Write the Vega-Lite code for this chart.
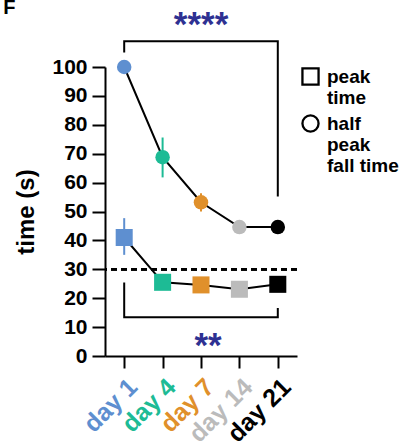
{
  "$schema": "https://vega.github.io/schema/vega-lite/v6.json",
  "width": 192,
  "height": 289,
  "autosize": {"type": "none"},
  "padding": {"left": 105, "top": 67, "right": 122, "bottom": 91},
  "background": "white",
  "config": {
    "view": {"stroke": null},
    "font": "Liberation Sans",
    "axisY": {
      "titleFontSize": 24, "titleFontWeight": "bold", "titleColor": "black", "titlePadding": 13,
      "labelFontSize": 21, "labelFontWeight": "bold", "labelColor": "black", "labelPadding": 5, "labelOverlap": false,
      "tickSize": 13, "tickWidth": 2, "tickColor": "black", "domainColor": "black", "domainWidth": 2, "grid": false
    },
    "axisX": {
      "labelAngle": -45, "labelFontSize": 25, "labelFontWeight": "bold", "labelOverlap": false,
      "tickSize": 12, "tickWidth": 2, "tickColor": "black", "domainColor": "black", "domainWidth": 2,
      "labelPadding": 6, "grid": false
    }
  },
  "datasets": {
    "series": [
      {"day": "day 1", "ord": 1, "type": "peak|time", "mean": 41.0, "lo": 35.0, "hi": 47.7},
      {"day": "day 4", "ord": 2, "type": "peak|time", "mean": 25.5, "lo": 24.5, "hi": 26.5},
      {"day": "day 7", "ord": 3, "type": "peak|time", "mean": 24.6, "lo": 23.6, "hi": 25.6},
      {"day": "day 14", "ord": 4, "type": "peak|time", "mean": 23.1, "lo": 22.1, "hi": 24.1},
      {"day": "day 21", "ord": 5, "type": "peak|time", "mean": 24.8, "lo": 23.8, "hi": 25.8},
      {"day": "day 1", "ord": 1, "type": "half|peak|fall time", "mean": 100, "lo": 99, "hi": 101},
      {"day": "day 4", "ord": 2, "type": "half|peak|fall time", "mean": 68.8, "lo": 61.8, "hi": 75.6},
      {"day": "day 7", "ord": 3, "type": "half|peak|fall time", "mean": 53.2, "lo": 50.0, "hi": 56.3},
      {"day": "day 14", "ord": 4, "type": "half|peak|fall time", "mean": 44.6, "lo": 43.6, "hi": 45.6},
      {"day": "day 21", "ord": 5, "type": "half|peak|fall time", "mean": 44.6, "lo": 43.6, "hi": 45.6}
    ],
    "brackets": [
      {"g": "top", "ord": 1, "day": "day 1", "v": 105},
      {"g": "top", "ord": 2, "day": "day 1", "v": 108.9},
      {"g": "top", "ord": 3, "day": "day 21", "v": 108.9},
      {"g": "top", "ord": 4, "day": "day 21", "v": 55.2},
      {"g": "bot", "ord": 1, "day": "day 1", "v": 25.4},
      {"g": "bot", "ord": 2, "day": "day 1", "v": 13.4},
      {"g": "bot", "ord": 3, "day": "day 21", "v": 13.4},
      {"g": "bot", "ord": 4, "day": "day 21", "v": 16.6}
    ],
    "stars": [
      {"day": "day 7", "v": 117, "label": "****", "which": "top"},
      {"day": "day 7", "v": 6.3, "label": "**", "which": "bot"},
      {"day": "day 1", "v": 118.2, "label": "F", "which": "panel"}
    ]
  },
  "encoding": {
    "x": {
      "field": "day", "type": "ordinal",
      "scale": {"type": "point", "domain": ["day 1", "day 4", "day 7", "day 14", "day 21"], "padding": 0.5},
      "axis": {
        "title": null,
        "labelColor": {"condition": [
          {"test": "datum.value == 'day 1'", "value": "#5e8fd0"},
          {"test": "datum.value == 'day 4'", "value": "#1dbb95"},
          {"test": "datum.value == 'day 7'", "value": "#e0902b"},
          {"test": "datum.value == 'day 14'", "value": "#bbbbbb"}
        ], "value": "#000000"}
      }
    },
    "y": {
      "type": "quantitative",
      "scale": {"domain": [0, 100], "nice": false},
      "axis": {"title": "time (s)", "values": [0, 10, 20, 30, 40, 50, 60, 70, 80, 90, 100]}
    }
  },
  "layer": [
    {
      "data": {"name": "series"},
      "mark": {"type": "line", "color": "black", "strokeWidth": 2},
      "encoding": {
        "y": {"field": "mean", "type": "quantitative"},
        "detail": {"field": "type"},
        "order": {"field": "ord"}
      }
    },
    {
      "data": {"name": "brackets"},
      "mark": {"type": "line", "color": "black", "strokeWidth": 2, "clip": false},
      "encoding": {
        "y": {"field": "v", "type": "quantitative"},
        "detail": {"field": "g"},
        "order": {"field": "ord"}
      }
    },
    {
      "data": {"name": "series"},
      "mark": {"type": "rule", "strokeDash": [6, 4], "strokeWidth": 2, "color": "black"},
      "encoding": {"x": null, "y": {"datum": 30, "type": "quantitative"}}
    },
    {
      "data": {"name": "stars"},
      "transform": [{"filter": "datum.which == 'top'"}],
      "mark": {"type": "text", "color": "#2e3192", "fontSize": 35, "fontWeight": "bold", "baseline": "middle", "dy": 7},
      "encoding": {
        "y": {"field": "v", "type": "quantitative"},
        "text": {"field": "label"}
      }
    },
    {
      "data": {"name": "stars"},
      "transform": [{"filter": "datum.which == 'bot'"}],
      "mark": {"type": "text", "color": "#2e3192", "fontSize": 35, "fontWeight": "bold", "baseline": "middle", "dy": 8, "dx": 7},
      "encoding": {
        "y": {"field": "v", "type": "quantitative"},
        "text": {"field": "label"}
      }
    },
    {
      "data": {"name": "stars"},
      "transform": [{"filter": "datum.which == 'panel'"}],
      "mark": {"type": "text", "color": "black", "fontSize": 20, "fontWeight": "bold", "baseline": "alphabetic", "align": "left", "dx": -121},
      "encoding": {
        "y": {"field": "v", "type": "quantitative"},
        "text": {"field": "label"}
      }
    },
    {
      "data": {"name": "series"},
      "mark": {"type": "rule", "strokeWidth": 2},
      "encoding": {
        "y": {"field": "lo", "type": "quantitative"},
        "y2": {"field": "hi"},
        "color": {"field": "day", "type": "nominal", "scale": {"domain": ["day 1", "day 4", "day 7", "day 14", "day 21"], "range": ["#5e8fd0", "#1dbb95", "#e0902b", "#bbbbbb", "#000000"]}, "legend": null}
      }
    },
    {
      "data": {"name": "series"},
      "transform": [{"filter": "datum.type == 'peak|time'"}],
      "mark": {"type": "point", "filled": true, "opacity": 1, "clip": false, "size": 290},
      "encoding": {
        "y": {"field": "mean", "type": "quantitative"},
        "color": {"field": "day", "type": "nominal", "legend": null},
        "shape": {"field": "type", "type": "nominal"}
      }
    },
    {
      "data": {"name": "series"},
      "transform": [{"filter": "datum.type != 'peak|time'"}],
      "mark": {"type": "point", "filled": true, "opacity": 1, "clip": false, "size": 210},
      "encoding": {
        "y": {"field": "mean", "type": "quantitative"},
        "color": {"field": "day", "type": "nominal", "legend": null},
        "shape": {
          "field": "type", "type": "nominal",
          "scale": {"domain": ["peak|time", "half|peak|fall time"], "range": ["square", "circle"]},
          "legend": {
            "orient": "none", "legendX": 196, "legendY": 0, "title": null, "padding": 0,
            "symbolSize": 260, "labelFontSize": 19, "labelFontWeight": "bold", "labelColor": "black",
            "symbolFillColor": "white", "symbolStrokeColor": "black", "symbolStrokeWidth": 2.3, "symbolOpacity": 1,
            "labelOffset": 7, "rowPadding": 2, "labelBaseline": "middle",
            "labelExpr": "split(datum.label, '|')",
            "encode": {
              "labels": {"lineHeight": {"value": 23}}
            }
          }
        }
      }
    }
  ]
}
